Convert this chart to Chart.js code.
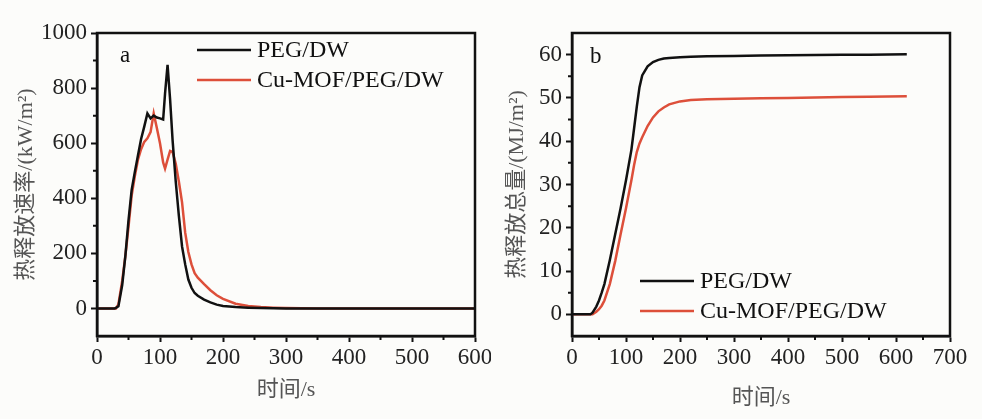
<!DOCTYPE html>
<html>
<head>
<meta charset="utf-8">
<script src="https://cdn.jsdelivr.net/npm/chart.js@4.4.1/dist/chart.umd.min.js"></script>
<style>
  html, body { margin: 0; padding: 0; background: #fcfcfa; }
  #wrap { position: relative; width: 982px; height: 419px; overflow: hidden; }
  canvas { position: absolute; top: 0; }
  #chartA { left: 0; }
  #chartB { left: 491px; }
</style>
</head>
<body>
<div id="wrap">
  <canvas id="chartA" width="491" height="419"></canvas>
  <canvas id="chartB" width="491" height="419"></canvas>
</div>
<script>
  // ---- DATA ----
  const seriesNames = ['PEG/DW', 'Cu-MOF/PEG/DW'];

  // (a) heat release rate, kW/m2
  const timeHrr = [0, 28, 30, 34, 40, 45, 50, 55, 60, 65, 70, 75, 80, 85, 90, 95, 100, 105, 108, 112,
                   116, 120, 125, 130, 135, 140, 145, 150, 155, 160, 170, 180, 190, 200, 220, 240, 260, 280, 300, 350,
                   400, 450, 500, 550, 600];
  const hrrPeg  = [0, 0, 2, 8, 85, 190, 320, 430, 495, 555, 615, 660, 708, 690, 700, 693, 690, 686, 780, 884,
                   760, 610, 460, 335, 225, 160, 105, 75, 56, 46, 32, 22, 14, 9, 5, 3, 2, 1, 0, 0,
                   0, 0, 0, 0, 0];
  const hrrCu   = [0, 0, 0, 15, 100, 190, 296, 410, 480, 540, 578, 605, 618, 640, 708, 655, 600, 530, 508, 540,
                   572, 568, 525, 460, 385, 275, 205, 160, 128, 112, 88, 66, 48, 35, 17, 9, 5, 3, 2, 0,
                   0, 0, 0, 0, 0];
  const hrrTicksX = [0, 100, 200, 300, 400, 500, 600];
  const hrrTicksY = [0, 200, 400, 600, 800, 1000];

  // (b) total heat release, MJ/m2
  const timeThr = [0, 34, 38, 45, 50, 55, 60, 70, 80, 90, 100, 110, 115, 120, 125, 130, 140, 150, 160, 170,
                   180, 200, 220, 250, 300, 350, 400, 450, 500, 550, 620];
  const thrPeg  = [0, 0, 0.4, 1.8, 3.2, 5, 7, 12.5, 18.5, 24.5, 31, 38, 43, 48, 52.5, 55.2, 57.3, 58.3, 58.8, 59.1,
                   59.2, 59.4, 59.5, 59.6, 59.7, 59.8, 59.85, 59.9, 59.95, 60, 60.1];
  const thrCu   = [0, 0, 0, 0.6, 1.2, 2, 3.2, 7, 12.3, 18.5, 24.5, 31, 34.5, 37.5, 39.5, 40.9, 43.5, 45.5, 46.9, 47.8,
                   48.5, 49.2, 49.5, 49.7, 49.8, 49.9, 50, 50.1, 50.2, 50.3, 50.4];
  const thrTicksX = [0, 100, 200, 300, 400, 500, 600, 700];
  const thrTicksY = [0, 10, 20, 30, 40, 50, 60];

  // ---- STYLE ----
  const serif = "'Liberation Serif', 'Times New Roman', 'Noto Sans CJK SC', serif";
  const ink = '#111';
  const colors = ['#111111', '#dd4f3a'];

  // frame, minor ticks, panel letter and legend
  const decor = {
    id: 'decor',
    afterDraw(chart, args, o) {
      const { ctx, chartArea: a } = chart;
      const xs = chart.scales.x, ys = chart.scales.y;
      ctx.save();
      ctx.strokeStyle = ink;
      ctx.lineWidth = 2;
      ctx.beginPath();
      for (let i = 1; xs.min + i * o.minorX < xs.max; i++) {
        if (i % 2 === 0) continue;
        const px = xs.getPixelForValue(xs.min + i * o.minorX);
        ctx.moveTo(px, a.bottom); ctx.lineTo(px, a.bottom + 4);
      }
      for (let i = 1; ys.min + i * o.minorY < ys.max; i++) {
        const v = ys.min + i * o.minorY;
        if (o.tickY.includes(v)) continue;
        const py = ys.getPixelForValue(v);
        ctx.moveTo(a.left, py); ctx.lineTo(a.left - 4, py);
      }
      ctx.stroke();

      ctx.lineWidth = 2.5;
      ctx.strokeRect(a.left, a.top, a.right - a.left, a.bottom - a.top);

      ctx.fillStyle = ink;
      ctx.font = '23px ' + serif;
      ctx.textBaseline = 'middle';
      ctx.textAlign = 'left';
      ctx.fillText(o.letter, o.letterX, o.letterY);

      ctx.font = '24px ' + serif;
      chart.data.datasets.forEach((ds, i) => {
        const y = o.legY + i * o.legGap;
        ctx.strokeStyle = ds.borderColor;
        ctx.lineWidth = 2.5;
        ctx.beginPath();
        ctx.moveTo(o.legX, y); ctx.lineTo(o.legX + 54, y);
        ctx.stroke();
        ctx.fillStyle = ink;
        ctx.fillText(ds.label, o.legX + 60, y + 1);
      });
      ctx.restore();
    }
  };

  function makeChart(id, cfg) {
    const pts = (xs, ys) => xs.map((x, i) => ({ x: x, y: ys[i] }));
    const tickFont = { family: serif, size: 23 };
    const titleFont = { family: serif, size: 22 };
    new Chart(document.getElementById(id), {
      type: 'line',
      data: {
        datasets: cfg.series.map((s, i) => ({
          label: seriesNames[i],
          data: pts(cfg.time, s),
          borderColor: colors[i],
          borderWidth: 2.5,
          pointRadius: 0,
          tension: 0,
          fill: false
        }))
      },
      options: {
        responsive: false,
        animation: false,
        layout: { padding: { top: 33, right: cfg.padRight, left: 0, bottom: 0 } },
        plugins: {
          legend: { display: false },
          tooltip: { enabled: false },
          decor: cfg.decor
        },
        scales: {
          x: {
            type: 'linear',
            min: cfg.xMin, max: cfg.xMax,
            afterBuildTicks: s => { s.ticks = cfg.ticksX.map(v => ({ value: v })); },
            afterFit: s => { s.height = 83; s.paddingLeft = 0; s.paddingRight = 0; },
            ticks: { autoSkip: false, maxRotation: 0, padding: 2, color: '#222', font: tickFont,
                     callback: v => String(v) },
            grid: { drawOnChartArea: false, drawTicks: true, tickLength: 6, tickColor: ink, tickWidth: 2 },
            border: { display: true, color: ink, width: 2.5 },
            title: { display: true, text: '时间/s', color: '#555', font: titleFont,
                     padding: { top: 0, bottom: cfg.xTitlePad } }
          },
          y: {
            type: 'linear',
            min: cfg.yMin, max: cfg.yMax,
            afterBuildTicks: s => { s.ticks = cfg.ticksY.map(v => ({ value: v })); },
            afterFit: s => { s.width = cfg.yWidth; s.paddingTop = 0; s.paddingBottom = 0; },
            ticks: { autoSkip: false, padding: 4, color: '#222', font: tickFont,
                     callback: v => String(v) },
            grid: { drawOnChartArea: false, drawTicks: true, tickLength: 6, tickColor: ink, tickWidth: 2 },
            border: { display: true, color: ink, width: 2.5 },
            title: { display: true, text: cfg.yTitle, color: '#555', font: titleFont,
                     padding: { top: 13, bottom: 0 } }
          }
        }
      },
      plugins: [decor]
    });
  }

  makeChart('chartA', {
    time: timeHrr, series: [hrrPeg, hrrCu],
    xMin: 0, xMax: 600, yMin: -100, yMax: 1000,
    ticksX: hrrTicksX, ticksY: hrrTicksY,
    yWidth: 97, padRight: 16, xTitlePad: 16,
    yTitle: '热释放速率/(kW/m²)',
    decor: { minorX: 50, minorY: 100, tickY: hrrTicksY, letter: 'a', letterX: 120, letterY: 56,
             legX: 197, legY: 50, legGap: 30 }
  });

  makeChart('chartB', {
    time: timeThr, series: [thrPeg, thrCu],
    xMin: 0, xMax: 700, yMin: -5, yMax: 65,
    ticksX: thrTicksX, ticksY: thrTicksY,
    yWidth: 81, padRight: 32, xTitlePad: 8,
    yTitle: '热释放总量/(MJ/m²)',
    decor: { minorX: 50, minorY: 5, tickY: thrTicksY, letter: 'b', letterX: 99, letterY: 57,
             legX: 149, legY: 281, legGap: 30 }
  });
</script>
</body>
</html>
